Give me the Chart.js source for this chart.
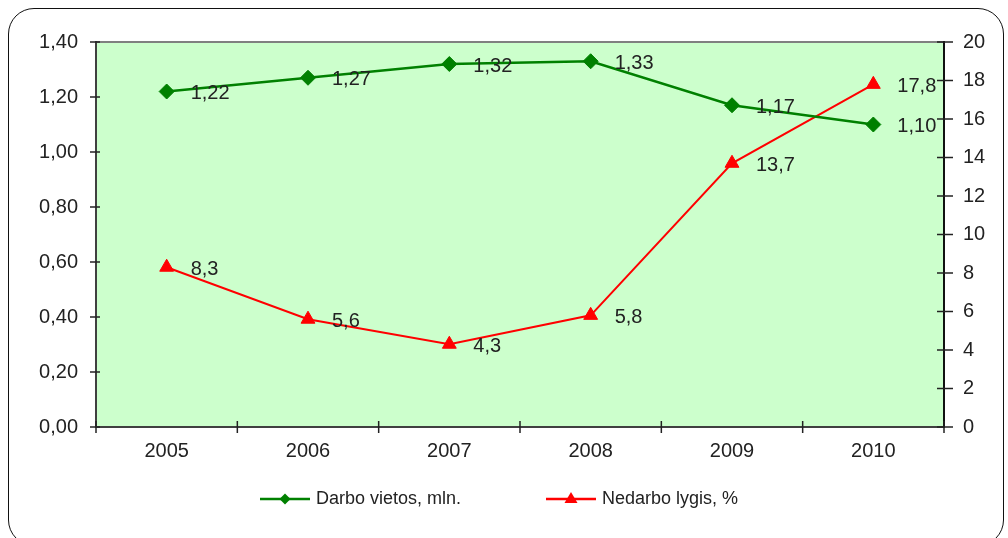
<!DOCTYPE html>
<html>
<head>
<meta charset="utf-8">
<script src="https://cdn.jsdelivr.net/npm/chart.js@4.4.0/dist/chart.umd.min.js"></script>
<style>
  html, body { margin: 0; padding: 0; background: #fff; }
  .wrap { position: relative; width: 1008px; height: 538px; overflow: hidden; }
  .frame { position: absolute; left: 8px; top: 8px; width: 996px; height: 538px; box-sizing: border-box;
           border: 1.5px solid #111; border-radius: 26px; pointer-events: none; }
  canvas { position: absolute; left: 0; top: 0; }
</style>
</head>
<body>
<div class="wrap">
  <canvas id="chart" width="1008" height="538"></canvas>
  <div class="frame"></div>
</div>
<script>
// Data
const years = ['2005', '2006', '2007', '2008', '2009', '2010'];
const darboVietos = [1.22, 1.27, 1.32, 1.33, 1.17, 1.10];   // mln.
const nedarboLygis = [8.3, 5.6, 4.3, 5.8, 13.7, 17.8];     // %
const seriesNames = ['Darbo vietos, mln.', 'Nedarbo lygis, %'];

const GREEN = '#008000';
const RED = '#ff0000';
const FONT = '"Liberation Sans", Arial, sans-serif';

Chart.defaults.font.family = FONT;
Chart.defaults.font.size = 20;
Chart.defaults.color = '#222';

function comma(v, d) {
  return v.toFixed(d).replace('.', ',');
}

// light green plot area with grey top edge
const plotBackground = {
  id: 'plotBackground',
  beforeDraw(chart) {
    const { ctx, chartArea: a } = chart;
    ctx.save();
    ctx.fillStyle = '#ccffcc';
    ctx.fillRect(a.left, a.top, a.right - a.left, a.bottom - a.top);
    ctx.strokeStyle = '#808080';
    ctx.lineWidth = 2;
    ctx.beginPath();
    ctx.moveTo(a.left, a.top);
    ctx.lineTo(a.right, a.top);
    ctx.stroke();
    ctx.restore();
  }
};

// tick marks that cross the axis lines
const crossTicks = {
  id: 'crossTicks',
  afterDraw(chart) {
    const { ctx, scales } = chart;
    const yl = scales.y, yr = scales.y1, x = scales.x;
    ctx.save();
    ctx.lineWidth = 1.5;
    ctx.strokeStyle = '#222';
    function line(x1, y1, x2, y2) {
      ctx.beginPath();
      ctx.moveTo(x1, y1);
      ctx.lineTo(x2, y2);
      ctx.stroke();
    }
    yl.ticks.forEach((t, i) => {
      const py = yl.getPixelForTick(i);
      line(yl.right - 6, py, yl.right + 4, py);
    });
    yr.ticks.forEach((t, i) => {
      const py = yr.getPixelForTick(i);
      line(yr.left - 7, py, yr.left + 9, py);
    });
    for (let i = 0; i <= years.length; i++) {
      const px = x.getPixelForValue(i - 0.5);
      line(px, x.top - 6, px, x.top + 6);
    }
    ctx.restore();
  }
};

// value labels next to each point
const pointLabels = {
  id: 'pointLabels',
  afterDatasetsDraw(chart) {
    const ctx = chart.ctx;
    ctx.save();
    ctx.font = '20px ' + FONT;
    ctx.fillStyle = '#222';
    ctx.textAlign = 'left';
    ctx.textBaseline = 'middle';
    chart.data.datasets.forEach((ds, di) => {
      chart.getDatasetMeta(di).data.forEach((pt, i) => {
        ctx.fillText(comma(ds.data[i], ds.decimals), pt.x + 24, pt.y + 2);
      });
    });
    ctx.restore();
  }
};

// legend at the bottom: line with marker in the middle
const bottomLegend = {
  id: 'bottomLegend',
  afterDraw(chart) {
    const ctx = chart.ctx;
    const y = 499;
    const items = [
      { x: 260, color: GREEN, shape: 'diamond', text: chart.data.datasets[0].label },
      { x: 546, color: RED, shape: 'triangle', text: chart.data.datasets[1].label }
    ];
    ctx.save();
    items.forEach(it => {
      ctx.strokeStyle = it.color;
      ctx.fillStyle = it.color;
      ctx.lineWidth = 2.5;
      ctx.beginPath();
      ctx.moveTo(it.x, y);
      ctx.lineTo(it.x + 50, y);
      ctx.stroke();
      const cx = it.x + 25;
      ctx.beginPath();
      if (it.shape === 'diamond') {
        ctx.moveTo(cx, y - 5.5);
        ctx.lineTo(cx + 5.5, y);
        ctx.lineTo(cx, y + 5.5);
        ctx.lineTo(cx - 5.5, y);
      } else {
        ctx.moveTo(cx, y - 7);
        ctx.lineTo(cx + 6.5, y + 4);
        ctx.lineTo(cx - 6.5, y + 4);
      }
      ctx.closePath();
      ctx.fill();
      ctx.fillStyle = '#222';
      ctx.font = '18px ' + FONT;
      ctx.textAlign = 'left';
      ctx.textBaseline = 'middle';
      ctx.fillText(it.text, it.x + 56, y);
    });
    ctx.restore();
  }
};

const ctx = document.getElementById('chart').getContext('2d');
const chart = new Chart(ctx, {
  type: 'line',
  data: {
    labels: years,
    datasets: [
      {
        label: seriesNames[0],
        data: darboVietos,
        decimals: 2,
        yAxisID: 'y',
        borderColor: GREEN,
        backgroundColor: GREEN,
        borderWidth: 2.5,
        pointStyle: 'rectRot',
        pointRadius: 7.5,
        pointBorderWidth: 1,
        tension: 0
      },
      {
        label: seriesNames[1],
        data: nedarboLygis,
        decimals: 1,
        yAxisID: 'y1',
        borderColor: RED,
        backgroundColor: RED,
        borderWidth: 2,
        pointStyle: 'triangle',
        pointRadius: 8,
        pointBorderWidth: 1,
        tension: 0
      }
    ]
  },
  options: {
    responsive: false,
    animation: false,
    layout: { padding: { top: 42, left: 0, right: 0, bottom: 0 } },
    plugins: {
      legend: { display: false },
      tooltip: { enabled: false }
    },
    scales: {
      x: {
        offset: true,
        grid: { display: false, drawTicks: false },
        border: { display: true, color: '#404040', width: 2 },
        ticks: { padding: 12 },
        afterFit(s) { s.height = 111; }
      },
      y: {
        position: 'left',
        min: 0,
        max: 1.4,
        grid: { display: false, drawTicks: false },
        border: { display: true, color: '#404040', width: 2 },
        ticks: { stepSize: 0.2, padding: 18, callback: v => comma(v, 2) },
        afterFit(s) { s.width = 96; }
      },
      y1: {
        position: 'right',
        min: 0,
        max: 20,
        grid: { display: false, drawTicks: false },
        border: { display: true, color: '#111', width: 2 },
        ticks: { stepSize: 2, padding: 19 },
        afterFit(s) { s.width = 64; }
      }
    }
  },
  plugins: [plotBackground, crossTicks, pointLabels, bottomLegend]
});
</script>
</body>
</html>
